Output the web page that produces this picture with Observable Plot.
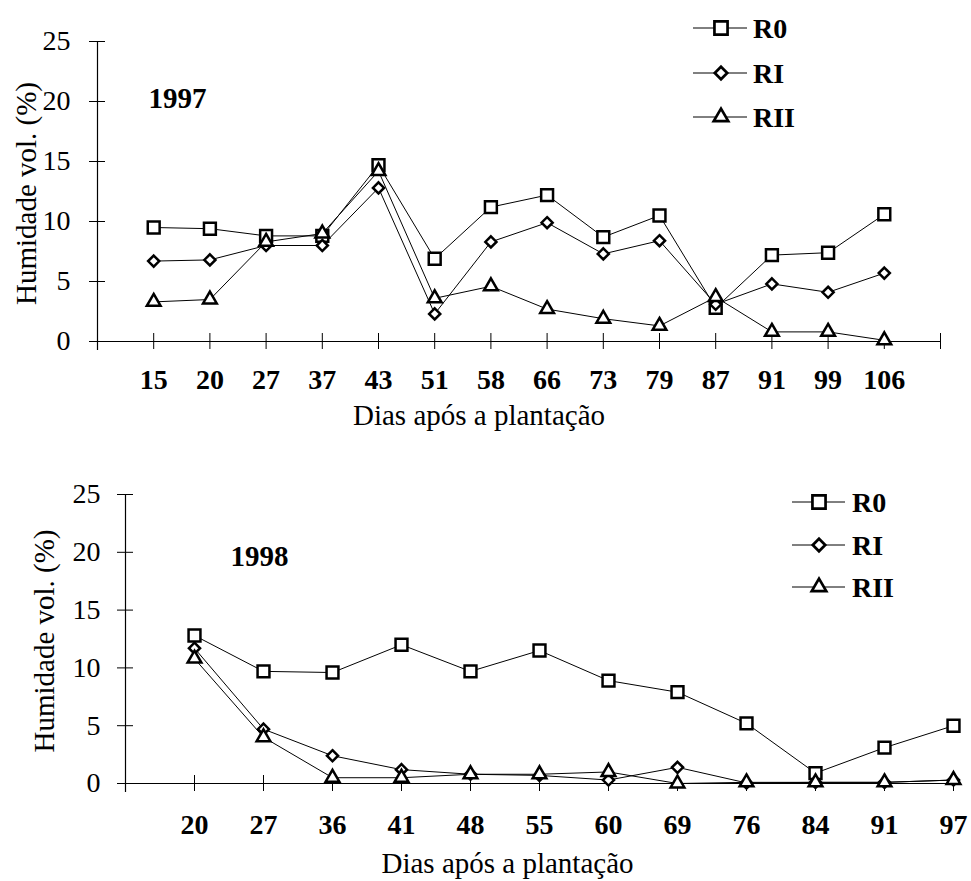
<!DOCTYPE html>
<html>
<head>
<meta charset="utf-8">
<script src="https://cdn.jsdelivr.net/npm/d3@7"></script>
<script src="https://cdn.jsdelivr.net/npm/@observablehq/plot@0.6"></script>
<style>
  html, body { margin: 0; padding: 0; background: #fff; }
  #wrap { position: relative; width: 971px; height: 881px; font-family: "Liberation Serif", "Times New Roman", serif; }
  .panel { position: absolute; left: 0; }
  .panel svg text { font-family: "Liberation Serif", "Times New Roman", serif; }
  #overlay { position: absolute; left: 0; top: 0; pointer-events: none; }
</style>
</head>
<body>
<div id="wrap">
  <div class="panel" id="p1" style="top:0px"></div>
  <div class="panel" id="p2" style="top:440px"></div>
</div>
<script>
// ---------- data ----------
const seriesNames = ["R0", "RI", "RII"];
const yTicks = [0, 5, 10, 15, 20, 25];

const days1997 = [15, 20, 27, 37, 43, 51, 58, 66, 73, 79, 87, 91, 99, 106];
const r0_1997  = [9.5, 9.4, 8.8, 8.8, 14.7, 6.9, 11.2, 12.2, 8.7, 10.5, 2.8, 7.2, 7.4, 10.6];
const ri_1997  = [6.7, 6.8, 8.0, 8.0, 12.8, 2.3, 8.3, 9.9, 7.3, 8.4, 3.1, 4.8, 4.1, 5.7];
const rii_1997 = [3.3, 3.5, 8.3, 9.0, 14.2, 3.6, 4.6, 2.7, 1.9, 1.3, 3.7, 0.8, 0.8, 0.1];

const days1998 = [20, 27, 36, 41, 48, 55, 60, 69, 76, 84, 91, 97];
const r0_1998  = [12.8, 9.7, 9.6, 12.0, 9.7, 11.5, 8.9, 7.9, 5.2, 0.9, 3.1, 5.0];
const ri_1998  = [11.7, 4.7, 2.4, 1.2, 0.8, 0.7, 0.3, 1.4, 0.05, 0.1, 0.1, 0.3];
const rii_1998 = [10.8, 4.0, 0.5, 0.5, 0.8, 0.8, 1.0, 0.0, 0.1, 0.1, 0.1, 0.3];

const xTitle = "Dias após a plantação";
const yTitle = "Humidade vol. (%)";

// ---------- drawing ----------
const FONT = '"Liberation Serif", "Times New Roman", serif';
const symbolNames = {R0: "square", RI: "diamond2", RII: "triangle"};
const symbolR = {R0: 6.7, RI: 5.0, RII: 5.1};

function panel(cfg) {
  const {days, values, year, width, height, m, xMax, xTickPos, yLabPad, xLabPad,
         yearDx, yearDy, xTitleDx, xTitleDy, yTitleDx, yTitleDy} = cfg;
  const rows = [];
  seriesNames.forEach((s, k) => values[k].forEach((v, i) => rows.push({idx: i + 1, day: days[i], v, s})));
  const lines = seriesNames.map(s => Plot.line(rows.filter(d => d.s === s), {x: "idx", y: "v", stroke: "#000", strokeWidth: 1}));
  const dots = seriesNames.map(s => Plot.dot(rows.filter(d => d.s === s), {
    x: "idx", y: "v", symbol: () => symbolNames[s], r: symbolR[s], fill: "white", stroke: "#000", strokeWidth: 2.5
  }));
  return Plot.plot({
    width, height,
    marginLeft: m[0], marginRight: m[1], marginTop: m[2], marginBottom: m[3],
    style: {fontFamily: FONT, color: "#000", background: "white", overflow: "visible"},
    x: {type: "linear", domain: [0, xMax], axis: null},
    y: {domain: [0, 25], axis: null},
    symbol: {domain: ["square", "diamond2", "triangle"], range: ["square", "diamond2", "triangle"]},
    marks: [
      Plot.ruleY([0], {insetLeft: -8, stroke: "#000", strokeWidth: 1.2}),
      Plot.ruleX([0], {insetBottom: -9, stroke: "#000", strokeWidth: 1.2}),
      Plot.axisY({ticks: yTicks, label: null, tickSize: 8, tickPadding: yLabPad, fontSize: 28, fontFamily: FONT,
                  tickFormat: d => String(d)}),
      Plot.axisY({ticks: yTicks, label: null, tickSize: 8, dx: 8, tickFormat: () => ""}),
      Plot.axisX({ticks: xTickPos, label: null, tickSize: 8, tickPadding: xLabPad, fontSize: 28, fontWeight: "bold", fontFamily: FONT,
                  tickFormat: i => (days[i - 1] !== undefined ? String(days[i - 1]) : "")}),
      Plot.axisX({ticks: xTickPos, label: null, tickSize: 8, dy: -8, tickFormat: () => ""}),
      ...lines,
      ...dots,
      Plot.text([year], {frameAnchor: "top-left", textAnchor: "start", lineAnchor: "middle",
                         dx: yearDx, dy: yearDy, fontSize: 29, fontWeight: "bold", fontFamily: FONT}),
      Plot.text([xTitle], {frameAnchor: "bottom", textAnchor: "middle", lineAnchor: "middle",
                           dx: xTitleDx, dy: xTitleDy, fontSize: 29, fontFamily: FONT}),
      Plot.text([yTitle], {frameAnchor: "left", textAnchor: "middle", lineAnchor: "middle", rotate: -90,
                           dx: yTitleDx, dy: yTitleDy, fontSize: 29, fontFamily: FONT})
    ]
  });
}

const p1 = panel({
  days: days1997, values: [r0_1997, ri_1997, rii_1997], year: "1997",
  width: 971, height: 440, m: [97, 31, 41, 99], xMax: 15,
  xTickPos: d3.range(1, 16), yLabPad: 19, xLabPad: 20,
  yearDx: 51, yearDy: 57, xTitleDx: -40, xTitleDy: 74, yTitleDx: -71, yTitleDy: 2
});
document.getElementById("p1").appendChild(p1);

const p2 = panel({
  days: days1998, values: [r0_1998, ri_1998, rii_1998], year: "1998",
  width: 971, height: 441, m: [125, 18, 54, 98], xMax: 12,
  xTickPos: d3.range(1, 13), yLabPad: 17, xLabPad: 23,
  yearDx: 105, yearDy: 62, xTitleDx: -32, xTitleDy: 80, yTitleDx: -81, yTitleDy: 2
});
document.getElementById("p2").appendChild(p2);

// ---------- legends ----------
const overlay = d3.select("#wrap").append("svg").attr("id", "overlay").attr("width", 971).attr("height", 881);
const d3sym = {R0: d3.symbolSquare, RI: d3.symbolDiamond2, RII: d3.symbolTriangle};
const legR = {R0: 7.4, RI: 5.6, RII: 5.4};
function legend(x0, x1, xm, xt, ys) {
  seriesNames.forEach((s, k) => {
    const g = overlay.append("g");
    g.append("line").attr("x1", x0).attr("x2", x1).attr("y1", ys[k]).attr("y2", ys[k]).attr("stroke", "#000").attr("stroke-width", 1);
    g.append("path").attr("d", d3.symbol(d3sym[s], Math.PI * legR[s] * legR[s])())
      .attr("transform", `translate(${xm},${ys[k]})`).attr("fill", "white").attr("stroke", "#000").attr("stroke-width", 2.7);
    g.append("text").attr("x", xt).attr("y", ys[k]).attr("dy", "0.35em")
      .attr("font-family", FONT).attr("font-size", 28).attr("font-weight", "bold").text(s);
  });
}
legend(693, 747, 721, 753, [28, 73, 117]);
legend(792, 845, 819, 852, [502, 545, 587]);
</script>
</body>
</html>
